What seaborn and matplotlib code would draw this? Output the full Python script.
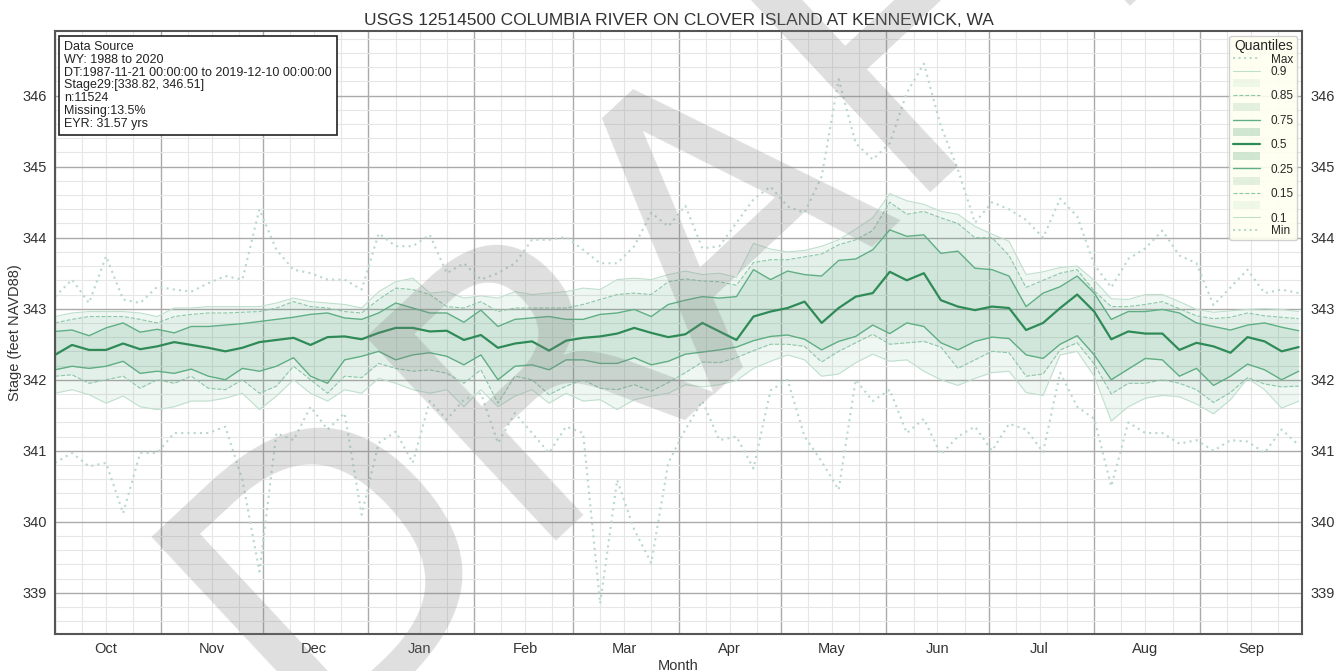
import matplotlib
matplotlib.use('Agg')
import matplotlib.pyplot as plt
import matplotlib.dates as mdates
import matplotlib.ticker as mticker
from matplotlib.patches import Patch
from matplotlib.lines import Line2D
import pandas as pd
import seaborn as sns

# day of water year (0 = Oct 1), sampled every 5 days
days = list(range(0, 366, 5))

q_max = [343.17, 343.41, 343.08, 343.74, 343.13, 343.08, 343.31, 343.27, 343.24, 343.36,
         343.46, 343.41, 344.40, 343.83, 343.55, 343.50, 343.41, 343.41, 343.27,
         344.06, 343.88, 343.88, 344.04, 343.50, 343.64, 343.41, 343.50, 343.64, 343.97,
         343.97, 344.01, 343.83, 343.64, 343.64, 343.88, 344.35, 344.16, 344.45,
         343.85, 343.88, 344.21, 344.54, 344.72, 344.44, 344.35, 344.86, 346.23, 345.33,
         345.10, 345.33, 346.04, 346.45, 345.57, 344.96, 344.21, 344.50,
         344.40, 344.25, 344.00, 344.55, 344.30, 343.62, 343.30, 343.70, 343.85, 344.10,
         343.75, 343.64, 343.05, 343.30, 343.55, 343.22, 343.27, 343.22]
q90 = [342.89, 342.94, 342.96, 342.96, 342.96, 342.94, 342.89, 343.01, 343.01, 343.03,
       343.03, 343.03, 343.03, 343.08, 343.15, 343.10, 343.08, 343.06, 343.01,
       343.24, 343.38, 343.43, 343.22, 343.24, 343.15, 343.18, 343.15, 343.24, 343.20,
       343.22, 343.24, 343.29, 343.27, 343.41, 343.43, 343.41, 343.48, 343.53,
       343.48, 343.50, 343.44, 343.92, 343.84, 343.80, 343.82, 343.88, 343.97, 344.12,
       344.28, 344.62, 344.52, 344.47, 344.37, 344.33, 344.16, 344.05,
       343.95, 343.48, 343.52, 343.58, 343.60, 343.40, 343.14, 343.13, 343.20, 343.20,
       343.10, 342.99, 342.95, 342.97, 342.99, 343.00, 342.99, 342.96]
q85 = [342.80, 342.85, 342.89, 342.89, 342.89, 342.85, 342.80, 342.89, 342.92, 342.94,
       342.94, 342.95, 342.96, 343.01, 343.10, 343.03, 343.01, 342.96, 342.94,
       343.13, 343.29, 343.27, 343.20, 343.03, 343.01, 343.10, 342.96, 343.01, 343.01,
       343.01, 343.01, 343.06, 343.13, 343.20, 343.22, 343.20, 343.38, 343.42,
       343.39, 343.38, 343.33, 343.65, 343.69, 343.69, 343.73, 343.77, 343.90, 343.97,
       344.10, 344.50, 344.33, 344.37, 344.28, 344.20, 344.00, 344.00,
       343.75, 343.30, 343.40, 343.50, 343.55, 343.25, 343.03, 343.03, 343.06, 343.10,
       343.00, 342.90, 342.86, 342.88, 342.94, 342.90, 342.88, 342.86]
q75 = [342.68, 342.70, 342.62, 342.73, 342.80, 342.67, 342.71, 342.66, 342.75, 342.75,
       342.77, 342.79, 342.82, 342.85, 342.88, 342.92, 342.94, 342.87, 342.85,
       342.94, 343.08, 343.01, 342.94, 342.94, 342.81, 342.98, 342.75, 342.85, 342.87,
       342.89, 342.85, 342.85, 342.92, 342.94, 342.99, 342.89, 343.06, 343.12,
       343.17, 343.15, 343.17, 343.55, 343.41, 343.53, 343.48, 343.46, 343.68, 343.70,
       343.83, 344.11, 344.02, 344.04, 343.78, 343.81, 343.57, 343.55,
       343.46, 343.03, 343.22, 343.31, 343.46, 343.22, 342.85, 342.96, 342.96, 342.99,
       342.94, 342.80, 342.75, 342.70, 342.77, 342.80, 342.74, 342.69]
q50 = [342.35, 342.49, 342.42, 342.42, 342.51, 342.43, 342.47, 342.53, 342.49, 342.45,
       342.40, 342.45, 342.53, 342.56, 342.59, 342.49, 342.60, 342.61, 342.57,
       342.66, 342.73, 342.73, 342.68, 342.69, 342.56, 342.63, 342.45, 342.51, 342.54,
       342.41, 342.55, 342.59, 342.61, 342.65, 342.73, 342.66, 342.60, 342.64,
       342.80, 342.68, 342.56, 342.89, 342.96, 343.01, 343.10, 342.80, 343.01, 343.17,
       343.22, 343.52, 343.40, 343.50, 343.12, 343.03, 342.98, 343.03,
       343.01, 342.70, 342.80, 343.01, 343.20, 342.96, 342.57, 342.68, 342.65, 342.65,
       342.42, 342.52, 342.47, 342.38, 342.60, 342.54, 342.40, 342.46]
q25 = [342.14, 342.19, 342.16, 342.19, 342.26, 342.09, 342.12, 342.09, 342.15, 342.05,
       342.00, 342.16, 342.12, 342.19, 342.31, 342.05, 341.95, 342.28, 342.33,
       342.40, 342.28, 342.35, 342.38, 342.33, 342.21, 342.35, 342.00, 342.19, 342.21,
       342.14, 342.28, 342.28, 342.23, 342.23, 342.31, 342.21, 342.26, 342.36,
       342.39, 342.42, 342.46, 342.55, 342.61, 342.63, 342.57, 342.42, 342.54, 342.61,
       342.77, 342.65, 342.80, 342.75, 342.52, 342.42, 342.54, 342.60,
       342.58, 342.35, 342.30, 342.50, 342.62, 342.35, 342.00, 342.15, 342.30, 342.28,
       342.05, 342.16, 341.92, 342.05, 342.22, 342.14, 342.00, 342.12]
q15 = [342.05, 342.07, 341.95, 342.00, 342.05, 341.88, 342.00, 341.95, 342.05, 341.88,
       341.86, 342.00, 341.81, 341.91, 342.19, 342.00, 341.81, 342.05, 342.03,
       342.23, 342.16, 342.12, 342.14, 342.09, 341.95, 342.14, 341.67, 342.05, 342.00,
       341.79, 341.91, 342.00, 341.88, 341.86, 341.93, 341.84, 341.96, 342.10,
       342.25, 342.24, 342.31, 342.41, 342.50, 342.50, 342.47, 342.25, 342.40, 342.52,
       342.64, 342.50, 342.52, 342.54, 342.46, 342.16, 342.28, 342.40,
       342.38, 342.05, 342.08, 342.42, 342.52, 342.22, 341.80, 341.95, 341.95, 342.00,
       341.95, 341.86, 341.68, 341.82, 342.03, 341.94, 341.90, 341.91]
q10 = [341.81, 341.86, 341.79, 341.67, 341.77, 341.62, 341.58, 341.62, 341.70, 341.70,
       341.74, 341.81, 341.58, 341.77, 342.00, 341.81, 341.70, 341.86, 341.81,
       342.02, 341.95, 341.86, 341.81, 341.86, 341.62, 341.86, 341.62, 341.77, 341.86,
       341.67, 341.81, 341.70, 341.72, 341.58, 341.72, 341.77, 341.81, 341.93,
       341.90, 341.93, 341.99, 342.16, 342.26, 342.35, 342.28, 342.05, 342.08, 342.24,
       342.36, 342.26, 342.28, 342.12, 342.00, 341.92, 342.02, 342.10,
       342.12, 341.82, 341.78, 342.35, 342.40, 342.05, 341.42, 341.62, 341.74, 341.78,
       341.76, 341.66, 341.52, 341.72, 342.02, 341.86, 341.60, 341.70]
q_min = [340.83, 340.97, 340.78, 340.83, 340.12, 340.97, 340.97, 341.25, 341.25, 341.25,
         341.34, 340.59, 339.30, 341.25, 341.15, 341.62, 341.30, 341.53, 340.10,
         341.11, 341.27, 340.83, 341.70, 341.44, 341.72, 341.81, 341.11, 341.53, 341.25,
         340.97, 341.34, 341.25, 338.85, 340.59, 339.89, 339.42, 340.83, 341.30,
         341.70, 341.15, 341.20, 340.75, 341.85, 342.00, 341.20, 340.85, 340.45, 342.00,
         341.70, 341.86, 341.25, 341.45, 340.95, 341.20, 341.34, 341.00,
         341.38, 341.30, 340.98, 342.10, 341.62, 341.45, 340.50, 341.40, 341.25, 341.25,
         341.10, 341.15, 341.00, 341.15, 341.13, 340.97, 341.30, 341.08]

title = 'USGS 12514500 COLUMBIA RIVER ON CLOVER ISLAND AT KENNEWICK, WA'
info = ('Data Source\nWY: 1988 to 2020\n'
        'DT:1987-11-21 00:00:00 to 2019-12-10 00:00:00\n'
        'Stage29:[338.82, 346.51]\nn:11524\nMissing:13.5%\nEYR: 31.57 yrs')

sns.set_style('white')
plt.rcParams['font.family'] = ['Liberation Sans', 'DejaVu Sans']

df = pd.DataFrame({'date': pd.Timestamp('2019-10-01') + pd.to_timedelta(days, unit='D'),
                   'max': q_max, 'q90': q90, 'q85': q85, 'q75': q75, 'q50': q50,
                   'q25': q25, 'q15': q15, 'q10': q10, 'min': q_min})

green = '#2e8b57'
c_band = '#3f9a68'
c_q75 = '#5fae84'
c_q85 = '#8cc7a6'
c_q90 = '#bfdfcd'
c_ext = '#b9d8cd'

fig = plt.figure(figsize=(13.44, 6.71), dpi=100)
ax = fig.add_axes([0.0409, 0.0551, 0.9279, 0.8987])

# bands
ax.fill_between(df['date'], df['q10'], df['q15'], color=c_band, alpha=0.08, lw=0)
ax.fill_between(df['date'], df['q85'], df['q90'], color=c_band, alpha=0.08, lw=0)
ax.fill_between(df['date'], df['q15'], df['q25'], color=c_band, alpha=0.14, lw=0)
ax.fill_between(df['date'], df['q75'], df['q85'], color=c_band, alpha=0.14, lw=0)
ax.fill_between(df['date'], df['q25'], df['q75'], color=c_band, alpha=0.24, lw=0)

sns.lineplot(data=df, x='date', y='max', ax=ax, color=c_ext, lw=1.5, ls=(0, (1, 2)))
sns.lineplot(data=df, x='date', y='min', ax=ax, color=c_ext, lw=1.5, ls=(0, (1, 2)))
sns.lineplot(data=df, x='date', y='q90', ax=ax, color=c_q90, lw=0.8)
sns.lineplot(data=df, x='date', y='q10', ax=ax, color=c_q90, lw=0.8)
sns.lineplot(data=df, x='date', y='q85', ax=ax, color=c_q85, lw=0.8, ls='--')
sns.lineplot(data=df, x='date', y='q15', ax=ax, color=c_q85, lw=0.8, ls='--')
sns.lineplot(data=df, x='date', y='q75', ax=ax, color=c_q75, lw=1.0)
sns.lineplot(data=df, x='date', y='q25', ax=ax, color=c_q75, lw=1.0)
sns.lineplot(data=df, x='date', y='q50', ax=ax, color=green, lw=1.6)

ax.set_xlim(pd.Timestamp('2019-10-01'), pd.Timestamp('2020-10-01'))
ax.set_ylim(338.42, 346.91)

ax.xaxis.set_major_locator(mdates.MonthLocator())
ax.xaxis.set_major_formatter(mticker.NullFormatter())
ax.xaxis.set_minor_locator(mdates.DayLocator(bymonthday=[9, 16, 24]))
ax.xaxis.set_minor_formatter(mticker.FuncFormatter(
    lambda v, p: mdates.num2date(v).strftime('%b') if mdates.num2date(v).day == 16 else ''))
ax.yaxis.set_major_locator(mticker.MultipleLocator(1))
ax.yaxis.set_minor_locator(mticker.MultipleLocator(0.2))
ax.yaxis.set_major_formatter(mticker.FormatStrFormatter('%d'))

ax.grid(which='major', color='#aaaaaa', lw=1.0)
ax.grid(which='minor', color='#e6e6e6', lw=0.8)
ax.set_axisbelow(True)
ax.tick_params(which='both', length=0, labelsize=10.5, labelcolor='#333333',
               labelright=True, pad=6)
for s in ax.spines.values():
    s.set_color('#555555')
    s.set_linewidth(1.5)

ax.set_title(title, fontsize=12.5, color='#333333', pad=4)
ax.set_xlabel('Month', fontsize=10.5, color='#333333', labelpad=2)
ax.set_ylabel('Stage (feet NAVD88)', fontsize=10.5, color='#333333', labelpad=0)

ax.text(0.0075, 0.983, info, transform=ax.transAxes, va='top', ha='left',
        fontsize=9, color='#222222', linespacing=1.08,
        bbox=dict(boxstyle='square,pad=0.4', fc='white', ec='#222222', lw=1.2))

ln = lambda c, lw, ls: Line2D([], [], color=c, lw=lw, ls=ls)
band = lambda a: Patch(facecolor=c_band, alpha=a, edgecolor='none')
handles = [ln(c_ext, 1.5, ':'), ln(c_q90, 0.8, '-'), band(0.08),
           ln(c_q85, 0.8, '--'), band(0.14), ln(c_q75, 1.0, '-'), band(0.24),
           ln(green, 1.6, '-'), band(0.24), ln(c_q75, 1.0, '-'), band(0.14),
           ln(c_q85, 0.8, '--'), band(0.08), ln(c_q90, 0.8, '-'), ln(c_ext, 1.5, ':')]
labels = ['Max', '0.9', '', '0.85', '', '0.75', '', '0.5', '', '0.25', '', '0.15', '', '0.1', 'Min']
leg = ax.legend(handles, labels, title='Quantiles', loc='upper right',
                fontsize=8.5, title_fontsize=10, labelspacing=0.02, handlelength=2.3,
                handletextpad=0.9, borderpad=0.3, frameon=True, facecolor='#fffff0',
                edgecolor='#cccccc', framealpha=0.9, borderaxespad=0.4)

fig.text(0.567, 0.532, 'DRAFT', rotation=43, rotation_mode='anchor', ha='center',
         va='baseline', fontsize=275, family='DejaVu Sans', color='#808080',
         alpha=0.25, zorder=10)

fig.savefig('out.png', dpi=100)
